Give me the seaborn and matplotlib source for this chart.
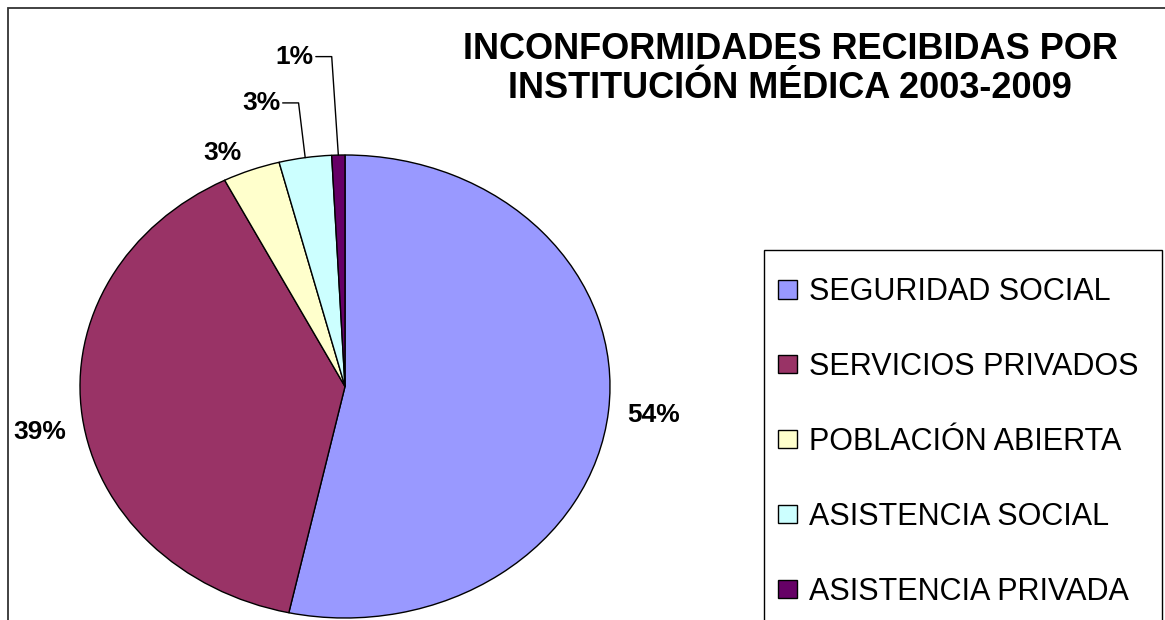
import matplotlib
matplotlib.use("Agg")
import matplotlib.pyplot as plt
import numpy as np
import seaborn as sns
from matplotlib.patches import Rectangle

# Data
categories = [
    "SEGURIDAD SOCIAL",
    "SERVICIOS PRIVADOS",
    "POBLACIÓN ABIERTA",
    "ASISTENCIA SOCIAL",
    "ASISTENCIA PRIVADA",
]
shares = [53.4, 39.1, 3.5, 3.2, 0.8]
pct_labels = ["54%", "39%", "3%", "3%", "1%"]
colors = ["#9999FF", "#993366", "#FFFFCC", "#CCFFFF", "#660066"]
title = "INCONFORMIDADES RECIBIDAS POR\nINSTITUCIÓN MÉDICA 2003-2009"

sns.set_theme(style="white")
plt.rcParams["font.family"] = ["Liberation Sans", "DejaVu Sans"]
plt.rcParams["text.color"] = "black"

W, H = 1165, 620
fig = plt.figure(figsize=(W / 100, H / 100), dpi=100)
fig.patch.set_facecolor("white")

# Pie axes: stretched (aspect auto) to get the elliptical pie
ax = fig.add_axes([80 / W, 2 / H, 530 / W, 463 / H])
wedges, _ = ax.pie(
    shares,
    colors=colors,
    startangle=90,
    counterclock=False,
    wedgeprops=dict(edgecolor="black", linewidth=1.0),
)
ax.set_aspect("auto")
ax.set_xlim(-1, 1)
ax.set_ylim(-1, 1)
ax.axis("off")

# Percentage labels; thin slices get a leader line up to a label row
leader_rows = {3: 1.225, 4: 1.425}
label_kw = dict(fontsize=19, fontweight="bold", color="black")
for i, w in enumerate(wedges):
    mid = np.deg2rad((w.theta1 + w.theta2) / 2)
    x, y = np.cos(mid), np.sin(mid)
    if i in leader_rows:
        ly = leader_rows[i]
        ex = x - 0.025
        hx = ex - 0.06
        ax.plot([x, ex, hx], [y, ly, ly], color="black", lw=1.0, clip_on=False)
        ax.text(hx - 0.008, ly, pct_labels[i], ha="right", va="center", **label_kw)
    elif i == 2:
        ax.text(1.1 * x, 1.08 * y, pct_labels[i], ha="right", va="center", **label_kw)
    elif i == 1:
        ax.text(1.06 * x, 1.06 * y - 0.06, pct_labels[i], ha="right", va="center", **label_kw)
    else:
        ax.text(1.17 * x, 1.17 * y, pct_labels[i], ha="center", va="center", **label_kw)

# Legend (frame drawn separately so it runs off the bottom like the original)
fig.legend(
    wedges,
    categories,
    loc="upper left",
    bbox_to_anchor=(778 / W, 1 - 277 / H),
    frameon=False,
    fontsize=22,
    borderpad=0,
    borderaxespad=0,
    handlelength=0.62,
    handleheight=0.56,
    handletextpad=0.39,
    labelspacing=1.47,
)
fig.patches.append(
    Rectangle((764 / W, -0.1), (1162 - 764) / W, 370 / H + 0.1,
              transform=fig.transFigure, fill=False, ec="black", lw=1.0)
)

# Outer chart border (cut off at right and bottom)
fig.patches.append(
    Rectangle((8 / W, -0.1), 1.1, 1 - 8 / H + 0.1,
              transform=fig.transFigure, fill=False, ec="#333333", lw=1.3)
)

fig.text(790 / W, 1 - 69 / H, title, ha="center", va="center",
         fontsize=26, fontweight="bold", linespacing=1.15)

fig.savefig("out.png", dpi=100)
plt.close(fig)
